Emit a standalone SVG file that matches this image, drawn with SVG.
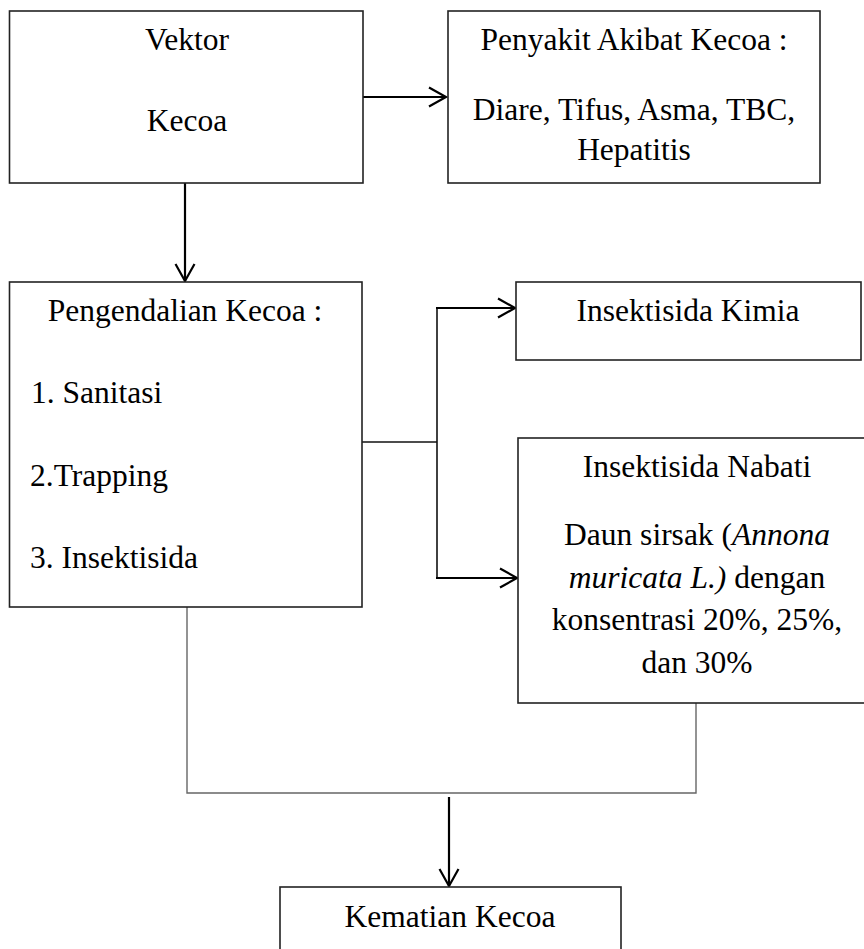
<svg xmlns="http://www.w3.org/2000/svg" width="864" height="949" viewBox="0 0 864 949">
<style>
.box{fill:#fff;stroke:#222;stroke-width:1.6}
.t{font-family:'Liberation Serif','Times New Roman',serif;font-size:31.5px;fill:#000}
.c{text-anchor:middle}
.arr{fill:none;stroke:#000;stroke-width:2.2}
.mid{fill:none;stroke:#111;stroke-width:1.6}
.thin{fill:none;stroke:#666;stroke-width:1.4}
</style>
<defs>
<marker id="ah" markerUnits="userSpaceOnUse" markerWidth="24" markerHeight="24" viewBox="-20 -12 22 24" refX="0" refY="0" orient="auto">
<path d="M-17,-9.5 L0,0 L-17,9.5" fill="none" stroke="#000" stroke-width="2.2"/>
</marker>
</defs>
<rect width="864" height="949" fill="#fff"/>
<g id="connectors">
<line class="arr" x1="363" y1="97" x2="446" y2="97" marker-end="url(#ah)"/>
<line class="arr" x1="185" y1="183" x2="185" y2="281" marker-end="url(#ah)"/>
<line class="mid" x1="362" y1="442" x2="437" y2="442"/>
<line class="mid" x1="437" y1="308" x2="437" y2="578"/>
<line class="arr" x1="436" y1="308" x2="515" y2="308" marker-end="url(#ah)"/>
<line class="arr" x1="436" y1="578" x2="517" y2="578" marker-end="url(#ah)"/>
<polyline class="thin" points="187,607 187,793 696,793 696,703"/>
<line class="arr" x1="449" y1="797" x2="449" y2="886" marker-end="url(#ah)"/>
</g>
<g id="vektor">
<rect class="box" x="9.5" y="11" width="353.5" height="172"/>
<text class="t c" x="187" y="50">Vektor</text>
<text class="t c" x="187" y="131">Kecoa</text>
</g>
<g id="penyakit">
<rect class="box" x="448" y="11" width="372" height="172"/>
<text class="t c" x="634" y="50">Penyakit Akibat Kecoa :</text>
<text class="t c" x="634" y="120">Diare, Tifus, Asma, TBC,</text>
<text class="t c" x="634" y="160">Hepatitis</text>
</g>
<g id="pengendalian">
<rect class="box" x="9.5" y="282" width="352.5" height="325"/>
<text class="t c" x="185" y="321">Pengendalian Kecoa :</text>
<text class="t" x="31" y="403">1. Sanitasi</text>
<text class="t" x="30" y="486">2.Trapping</text>
<text class="t" x="30" y="568">3. Insektisida</text>
</g>
<g id="kimia">
<rect class="box" x="516" y="282" width="345" height="78"/>
<text class="t c" x="688" y="321">Insektisida Kimia</text>
</g>
<g id="nabati">
<rect class="box" x="518" y="438" width="350" height="265"/>
<text class="t c" x="697" y="477">Insektisida Nabati</text>
<text class="t c" x="697" y="545">Daun sirsak (<tspan font-style="italic">Annona</tspan></text>
<text class="t c" x="697" y="588"><tspan font-style="italic">muricata L.)</tspan> dengan</text>
<text class="t c" x="697" y="630">konsentrasi 20%, 25%,</text>
<text class="t c" x="697" y="673">dan 30%</text>
</g>
<g id="kematian">
<rect class="box" x="280" y="887" width="341" height="80"/>
<text class="t c" x="450" y="927">Kematian Kecoa</text>
</g>
</svg>
